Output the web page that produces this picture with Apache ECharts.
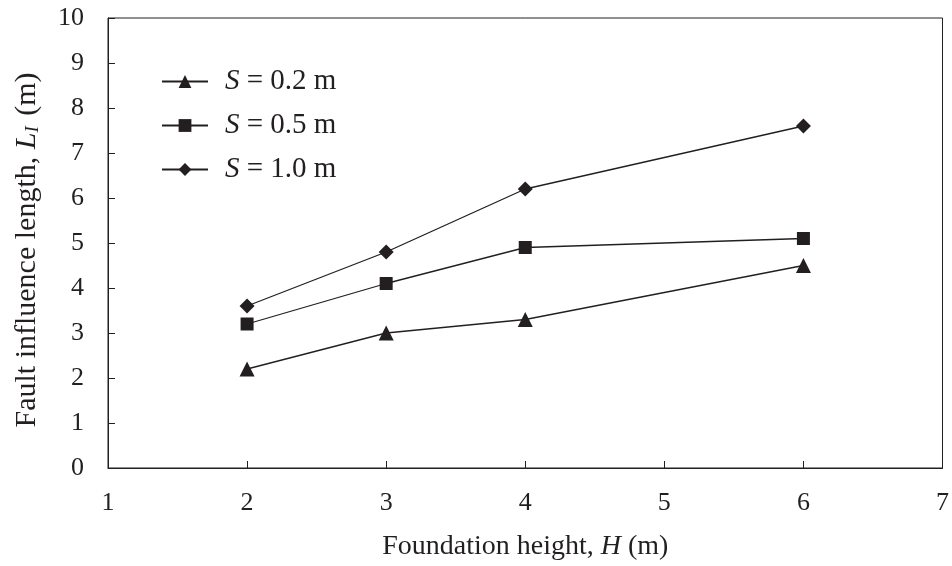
<!DOCTYPE html>
<html>
<head>
<meta charset="utf-8">
<script src="https://cdn.jsdelivr.net/npm/echarts@6/dist/echarts.min.js"></script>
<style>
  html, body { margin: 0; padding: 0; background: #fff; }
  #chart { width: 952px; height: 566px; }
</style>
</head>
<body>
<div id="chart"></div>
<script>
// Foundation heights (m) at which the fault influence length was evaluated
const heights = [2, 3, 4, 6];
// Fault influence length L_I (m) for each fault offset S
const lenS02 = [2.2, 3.0, 3.3, 4.5];
const lenS05 = [3.2, 4.1, 4.9, 5.1];
const lenS10 = [3.6, 4.8, 6.2, 7.6];
const seriesNames = ['S = 0.2 m', 'S = 0.5 m', 'S = 1.0 m'];
const xTicks = [1, 2, 3, 4, 5, 6, 7];
const yTicks = [0, 1, 2, 3, 4, 5, 6, 7, 8, 9, 10];

const FONT = '"Liberation Serif", "Times New Roman", serif';
const INK = '#231f20';

function pairs(ys) { return heights.map((h, i) => [h, ys[i]]); }

const chart = echarts.init(document.getElementById('chart'), null, { renderer: 'canvas' });

const markers = ['triangle', 'rect', 'diamond'];
const markerSizes = [15, 13, 15];
const dataSets = [lenS02, lenS05, lenS10];

chart.setOption({
  backgroundColor: '#fff',
  animation: false,
  textStyle: { fontFamily: FONT, color: INK },
  grid: { left: 108, right: 7, top: 18, bottom: 98, show: true, borderColor: INK, borderWidth: 1, backgroundColor: 'transparent' },
  legend: {
    left: 156, top: 62, orient: 'vertical', itemGap: 15,
    itemWidth: 46, itemHeight: 16,
    data: seriesNames,
    textStyle: {
      fontFamily: FONT, fontSize: 29, color: INK, padding: [0, 0, 0, 12],
      rich: { i: { fontFamily: FONT, fontSize: 29, fontStyle: 'italic', color: INK } }
    },
    formatter: function (name) { return '{i|S}' + name.slice(1); }
  },
  xAxis: {
    type: 'value', min: xTicks[0], max: xTicks[xTicks.length - 1], interval: 1,
    name: '{n|Foundation height, }{i|H}{n| (m)}',
    nameLocation: 'middle', nameGap: 65,
    nameTextStyle: {
      rich: {
        n: { fontFamily: FONT, fontSize: 28, color: INK },
        i: { fontFamily: FONT, fontSize: 28, color: INK, fontStyle: 'italic' }
      }
    },
    axisLine: { onZero: false, lineStyle: { color: INK, width: 1 } },
    axisTick: { inside: true, length: 7, lineStyle: { color: INK } },
    axisLabel: { fontFamily: FONT, fontSize: 26, color: INK, margin: 22 },
    splitLine: { show: false }
  },
  yAxis: {
    type: 'value', min: yTicks[0], max: yTicks[yTicks.length - 1], interval: 1,
    name: '{n|Fault influence length, }{i|L}{s|I}{n| (m)}',
    nameLocation: 'middle', nameGap: 66, nameRotate: 90,
    nameTextStyle: {
      padding: [0, 14, 0, 0],
      rich: {
        n: { fontFamily: FONT, fontSize: 30, color: INK, verticalAlign: 'bottom', lineHeight: 34 },
        i: { fontFamily: FONT, fontSize: 30, color: INK, fontStyle: 'italic', verticalAlign: 'bottom', lineHeight: 34 },
        s: { fontFamily: FONT, fontSize: 19, color: INK, fontStyle: 'italic', verticalAlign: 'bottom', lineHeight: 28, padding: [0, 3, 0, 0] }
      }
    },
    axisLine: { show: true, lineStyle: { color: INK, width: 1 } },
    axisTick: { inside: true, length: 7, lineStyle: { color: INK } },
    axisLabel: { fontFamily: FONT, fontSize: 26, color: INK, margin: 24 },
    splitLine: { show: false }
  },
  series: seriesNames.map((name, k) => ({
    name: name,
    type: 'line',
    data: pairs(dataSets[k]),
    symbol: markers[k],
    symbolSize: markerSizes[k],
    showAllSymbol: true,
    lineStyle: { color: INK, width: 1.3 },
    itemStyle: { color: INK, borderWidth: 0 },
    emphasis: { disabled: true }
  }))
});
</script>
</body>
</html>
